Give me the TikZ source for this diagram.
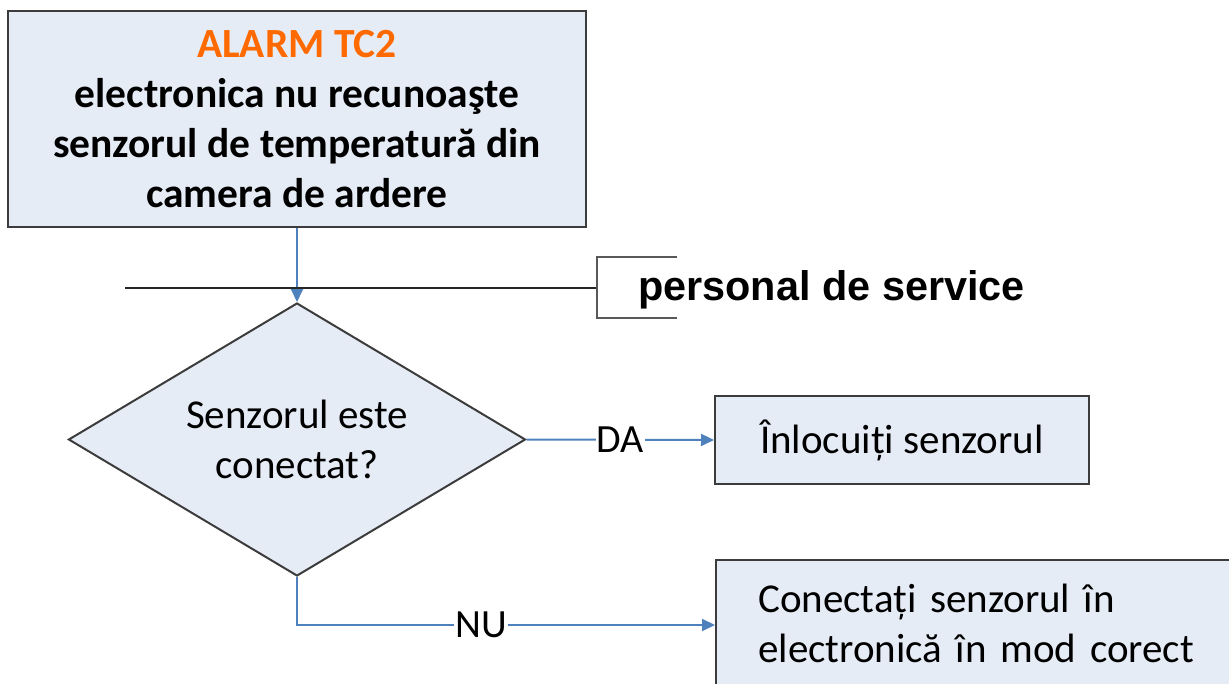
\documentclass[tikz,border=0pt]{standalone}
\usepackage{fontspec}
\setmainfont{Carlito}
\newfontfamily\arialfont{Liberation Sans}
\usetikzlibrary{shapes.geometric,arrows.meta}
\definecolor{boxfill}{RGB}{230,236,246}
\definecolor{boxline}{RGB}{60,60,60}
\definecolor{connblue}{RGB}{79,129,189}
\definecolor{alarmorange}{RGB}{255,106,0}
\begin{document}
\begin{tikzpicture}[x=1pt,y=-1pt,
  box/.style={draw=boxline, fill=boxfill, line width=2pt},
  conn/.style={draw=connblue, line width=2pt, -{Triangle[length=13pt,width=12pt]}},
  lbl/.style={fill=white, inner sep=1pt, font=\fontsize{40}{50}\selectfont},
  bigtxt/.style={font=\fontsize{41}{50}\selectfont}]
\useasboundingbox (0,0) rectangle (1229,684);
\clip (0,0) rectangle (1229,684);

% top box
\node[box, minimum width=578pt, minimum height=216pt, align=center, inner sep=0pt,
      font=\bfseries\fontsize{41.5}{50}\selectfont] (alarm) at (297,119)
  {\textcolor{alarmorange}{ALARM TC2}\\electronica nu recunoaşte\\senzorul de temperatură din\\camera de ardere};

% decision
\node[box, diamond, aspect=1.67, minimum width=457pt, minimum height=273pt, inner sep=0pt,
      align=center, bigtxt] (q) at (297,439.5) {Senzorul este\\conectat?};

% outcome boxes
\node[box, minimum width=374pt, minimum height=88pt, bigtxt] (da) at (902,440) {Înlocuiți senzorul};
\node[box, anchor=north west, minimum width=560pt, minimum height=170pt] (nu) at (715,559) {};
\node[anchor=north west, inner sep=0pt, text width=470pt, align=left, bigtxt] (nutxt) at (758,584)
  {Conectați senzorul în\\electronică în mod corect};

% connectors
\coordinate (nuend) at (715,625);
\draw[conn] (alarm.south) -- (q.north);
\draw[conn] (q.east) -- node[lbl] (dalbl) {DA} (da.west);
\draw[conn] (q.south) |- node[lbl, pos=0.72] (nulbl) {NU} (nuend);

% responsibility line and bracket
\coordinate (hl) at (125,288);
\coordinate (hr) at (597,288);
\coordinate (bt) at (677,257);
\coordinate (bb) at (677,318);
\draw[line width=2pt, black!85] (hl) -- (hr);
\draw[line width=2pt, black!65] (bt) -- (597,257) -- (597,318) -- (bb);
\node[anchor=base west, inner sep=0pt, font=\arialfont\bfseries\fontsize{41.4}{50}\selectfont] (svc) at (638,301) {personal de service};
\end{tikzpicture}
\end{document}
